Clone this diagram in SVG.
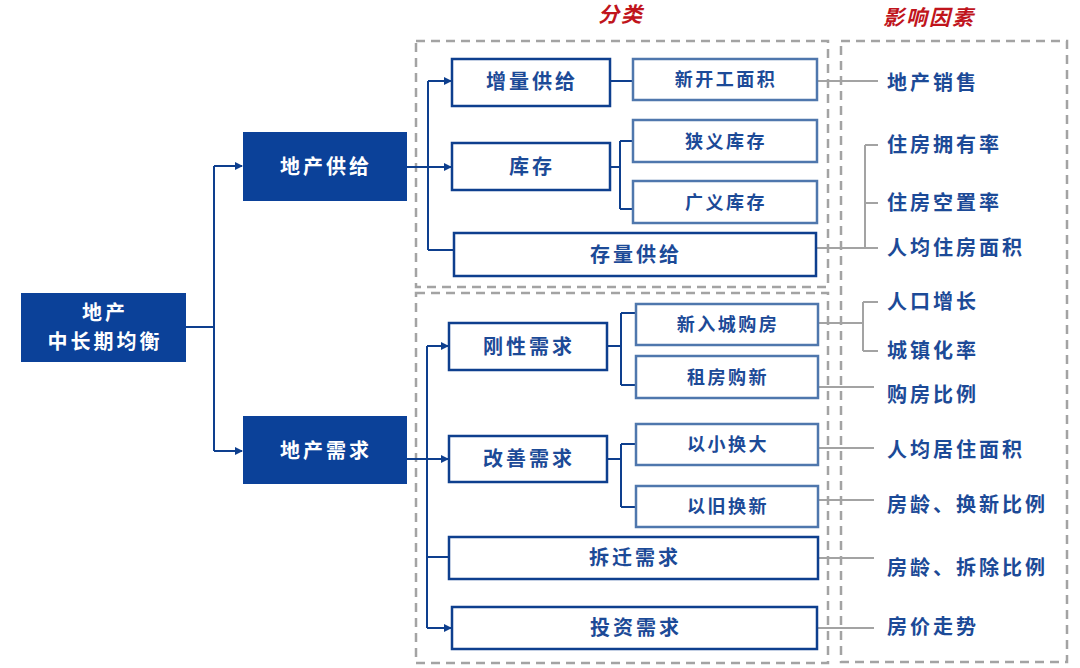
<svg xmlns="http://www.w3.org/2000/svg" width="1080" height="668" viewBox="0 0 1080 668">
<defs>
<marker id="arr" viewBox="0 0 8 8" refX="7" refY="4" markerWidth="8" markerHeight="8" markerUnits="userSpaceOnUse" orient="auto">
<path d="M0,0 L8,4 L0,8 z" fill="#0e3f8e"/>
</marker>
<style>
.t{font-family:"Noto Sans CJK SC","Noto Sans",sans-serif;font-weight:bold;}
.wt{fill:#ffffff;font-size:20px;letter-spacing:3px;}
.bt{fill:#1c4a97;font-size:20px;letter-spacing:3px;}
.st{fill:#1c4a97;font-size:18px;letter-spacing:2.5px;}
.ft{fill:#1c4a97;font-size:20px;letter-spacing:3px;}
.hd{fill:#c0141c;font-size:21px;font-style:italic;letter-spacing:2px;}
.dark{fill:#0b4199;}
.mid{fill:#ffffff;stroke:#0e3f8e;stroke-width:2.5;}
.light{fill:#ffffff;stroke:#4f77ad;stroke-width:2.5;}
.dash{fill:none;stroke:#a3a3a3;stroke-width:2.5;stroke-dasharray:9 6;}
.bl{fill:none;stroke:#0e3f8e;stroke-width:2;}
.gl{fill:none;stroke:#a3a3a3;stroke-width:2;}
</style>
</defs>
<rect width="1080" height="668" fill="#ffffff"/>

<g id="frames">
<rect class="dash" x="416" y="41" width="412" height="246"/>
<rect class="dash" x="416" y="293" width="412" height="370"/>
<rect class="dash" x="841" y="41" width="226" height="621"/>
<text class="t hd" x="621" y="22" text-anchor="middle">分类</text>
<text class="t hd" x="929" y="25" text-anchor="middle">影响因素</text>
</g>

<g id="connectors">
<path class="bl" d="M186,327 H214"/>
<path class="bl" d="M214,166 V451"/>
<path class="bl" d="M214,166 H242" marker-end="url(#arr)"/>
<path class="bl" d="M214,451 H242" marker-end="url(#arr)"/>
<path class="bl" d="M407,167 H451" marker-end="url(#arr)"/>
<path class="bl" d="M428,81 V250"/>
<path class="bl" d="M428,81 H451" marker-end="url(#arr)"/>
<path class="bl" d="M428,250 H453"/>
<path class="bl" d="M610,81 H633"/>
<path class="bl" d="M610,167 H620 M620,141 V209 M620,141 H633 M620,209 H633"/>
<path class="bl" d="M407,459 H448" marker-end="url(#arr)"/>
<path class="bl" d="M427,346 V628"/>
<path class="bl" d="M427,346 H448" marker-end="url(#arr)"/>
<path class="bl" d="M427,557 H448"/>
<path class="bl" d="M427,628 H451" marker-end="url(#arr)"/>
<path class="bl" d="M607,346 H621 M621,313 V385 M621,313 H636 M621,385 H636"/>
<path class="bl" d="M607,459 H621 M621,444 V507 M621,444 H636 M621,507 H636"/>
<path class="gl" d="M817,81 H878"/>
<path class="gl" d="M816,248 H878 M865,145 V248 M865,145 H878 M865,203 H878"/>
<path class="gl" d="M818,323 H863 M863,302 V351 M863,302 H878 M863,351 H878"/>
<path class="gl" d="M818,387 H874"/>
<path class="gl" d="M818,448 H874"/>
<path class="gl" d="M818,500 H874"/>
<path class="gl" d="M818,558 H874"/>
<path class="gl" d="M817,628 H874"/>
</g>

<g id="n-root">
<rect class="dark" x="21" y="293" width="165" height="69"/>
<text class="t wt" x="105" y="320" text-anchor="middle">地产</text>
<text class="t wt" x="105" y="349" text-anchor="middle">中长期均衡</text>
</g>
<g id="n-supply">
<rect class="dark" x="243" y="132" width="164" height="69"/>
<text class="t wt" x="326" y="174" text-anchor="middle">地产供给</text>
</g>
<g id="n-demand">
<rect class="dark" x="243" y="416" width="164" height="68"/>
<text class="t wt" x="326" y="458" text-anchor="middle">地产需求</text>
</g>

<g id="n-zlgj">
<rect class="mid" x="452" y="59" width="158" height="47"/>
<text class="t bt" x="532" y="89" text-anchor="middle">增量供给</text>
</g>
<g id="n-xkgmj">
<rect class="light" x="633" y="59" width="184" height="41"/>
<text class="t st" x="726" y="86" text-anchor="middle">新开工面积</text>
</g>
<g id="n-kc">
<rect class="mid" x="452" y="143" width="158" height="47"/>
<text class="t bt" x="532" y="174" text-anchor="middle">库存</text>
</g>
<g id="n-xykc">
<rect class="light" x="633" y="120" width="184" height="42"/>
<text class="t st" x="726" y="148" text-anchor="middle">狭义库存</text>
</g>
<g id="n-gykc">
<rect class="light" x="633" y="181" width="184" height="42"/>
<text class="t st" x="726" y="209" text-anchor="middle">广义库存</text>
</g>
<g id="n-clgj">
<rect class="mid" x="454" y="233" width="362" height="43"/>
<text class="t bt" x="636" y="262" text-anchor="middle">存量供给</text>
</g>

<g id="n-gxxq">
<rect class="mid" x="449" y="323" width="158" height="47"/>
<text class="t bt" x="529" y="354" text-anchor="middle">刚性需求</text>
</g>
<g id="n-xrcgf">
<rect class="light" x="636" y="304" width="182" height="41"/>
<text class="t st" x="728" y="331" text-anchor="middle">新入城购房</text>
</g>
<g id="n-zfgx">
<rect class="light" x="636" y="356" width="182" height="42"/>
<text class="t st" x="728" y="384" text-anchor="middle">租房购新</text>
</g>
<g id="n-gsxq">
<rect class="mid" x="449" y="436" width="158" height="46"/>
<text class="t bt" x="529" y="466" text-anchor="middle">改善需求</text>
</g>
<g id="n-yxhd">
<rect class="light" x="636" y="424" width="182" height="41"/>
<text class="t st" x="728" y="451" text-anchor="middle">以小换大</text>
</g>
<g id="n-yjhx">
<rect class="light" x="636" y="486" width="182" height="41"/>
<text class="t st" x="728" y="513" text-anchor="middle">以旧换新</text>
</g>
<g id="n-cqxq">
<rect class="mid" x="449" y="537" width="369" height="42"/>
<text class="t bt" x="635" y="565" text-anchor="middle">拆迁需求</text>
</g>
<g id="n-tzxq">
<rect class="mid" x="452" y="607" width="365" height="42"/>
<text class="t bt" x="636" y="635" text-anchor="middle">投资需求</text>
</g>

<g id="factors">
<text class="t ft" x="887" y="90">地产销售</text>
<text class="t ft" x="887" y="152">住房拥有率</text>
<text class="t ft" x="887" y="210">住房空置率</text>
<text class="t ft" x="887" y="255">人均住房面积</text>
<text class="t ft" x="887" y="309">人口增长</text>
<text class="t ft" x="887" y="358">城镇化率</text>
<text class="t ft" x="887" y="402">购房比例</text>
<text class="t ft" x="887" y="457">人均居住面积</text>
<text class="t ft" x="887" y="512">房龄、换新比例</text>
<text class="t ft" x="887" y="575">房龄、拆除比例</text>
<text class="t ft" x="887" y="634">房价走势</text>
</g>
</svg>
